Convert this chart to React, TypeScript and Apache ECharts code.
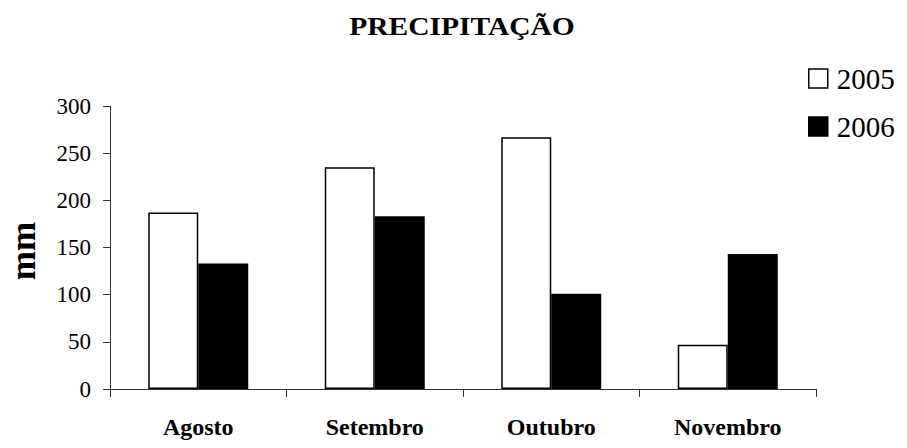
import React, { useEffect, useRef } from "react";
import * as echarts from "echarts";

const categories = ["Agosto", "Setembro", "Outubro", "Novembro"];
const seriesNames = ["2005", "2006"];
const values2005 = [187, 235, 267, 47];
const values2006 = [133, 183, 101, 143];
const yTicks = { min: 0, max: 300, interval: 50 };
const titleText = "PRECIPITAÇÃO";
const yAxisName = "mm";

const FONT = "Liberation Serif";

export default function App() {
  const ref = useRef<HTMLDivElement>(null);
  useEffect(() => {
    if (!ref.current) return;
    const chart = echarts.init(ref.current, null, { renderer: "svg" });
    chart.setOption({
      animation: false,
      backgroundColor: "#ffffff",
      textStyle: { fontFamily: FONT },
      graphic: [
        {
          type: "text",
          x: 462,
          y: 27,
          scaleX: 1.18,
          style: {
            text: titleText,
            fontFamily: FONT,
            fontWeight: "bold",
            fontSize: 25,
            fill: "#000",
            align: "center",
            verticalAlign: "middle",
          },
        },
        {
          type: "text",
          x: 23,
          y: 251,
          rotation: Math.PI / 2,
          style: {
            text: yAxisName,
            fontFamily: FONT,
            fontWeight: "bold",
            fontSize: 35,
            fill: "#000",
            align: "center",
            verticalAlign: "middle",
          },
        },
      ],
      legend: {
        orient: "vertical",
        left: 808,
        top: 64,
        padding: 0,
        itemWidth: 19,
        itemHeight: 19,
        itemGap: 19,
        icon: "rect",
        textStyle: {
          fontFamily: FONT,
          fontSize: 29,
          lineHeight: 29,
          color: "#000",
          padding: [0, 0, 0, 4],
        },
        data: [
          { name: seriesNames[0], itemStyle: { color: "#fff", borderColor: "#000", borderWidth: 1.5 } },
          { name: seriesNames[1], itemStyle: { color: "#000", borderColor: "#000", borderWidth: 1.5 } },
        ],
      },
      grid: { left: 110, right: 91, top: 106, bottom: 59, containLabel: false },
      xAxis: {
        type: "category",
        data: categories,
        axisLine: { lineStyle: { color: "#333", width: 1 } },
        axisTick: { show: true, length: 8, lineStyle: { color: "#333" } },
        axisLabel: {
          fontFamily: FONT,
          fontWeight: "bold",
          fontSize: 24,
          color: "#000",
          margin: 26,
        },
      },
      yAxis: {
        type: "value",
        min: yTicks.min,
        max: yTicks.max,
        interval: yTicks.interval,
        splitLine: { show: false },
        axisLine: { show: true, lineStyle: { color: "#333", width: 1 } },
        axisTick: { show: true, length: 7, lineStyle: { color: "#333" } },
        axisLabel: {
          fontFamily: FONT,
          fontSize: 23,
          color: "#000",
          margin: 19,
        },
      },
      series: [
        {
          name: seriesNames[0],
          type: "bar",
          data: values2005,
          barWidth: 50,
          barGap: "0%",
          itemStyle: { color: "#fff", borderColor: "#000", borderWidth: 1.5 },
        },
        {
          name: seriesNames[1],
          type: "bar",
          data: values2006,
          barWidth: 50,
          barGap: "0%",
          itemStyle: { color: "#000", borderColor: "#000", borderWidth: 1.5 },
        },
      ],
    });
    return () => chart.dispose();
  }, []);
  return <div ref={ref} style={{ width: 907, height: 448, position: "absolute", left: 0, top: 0 }} />;
}
